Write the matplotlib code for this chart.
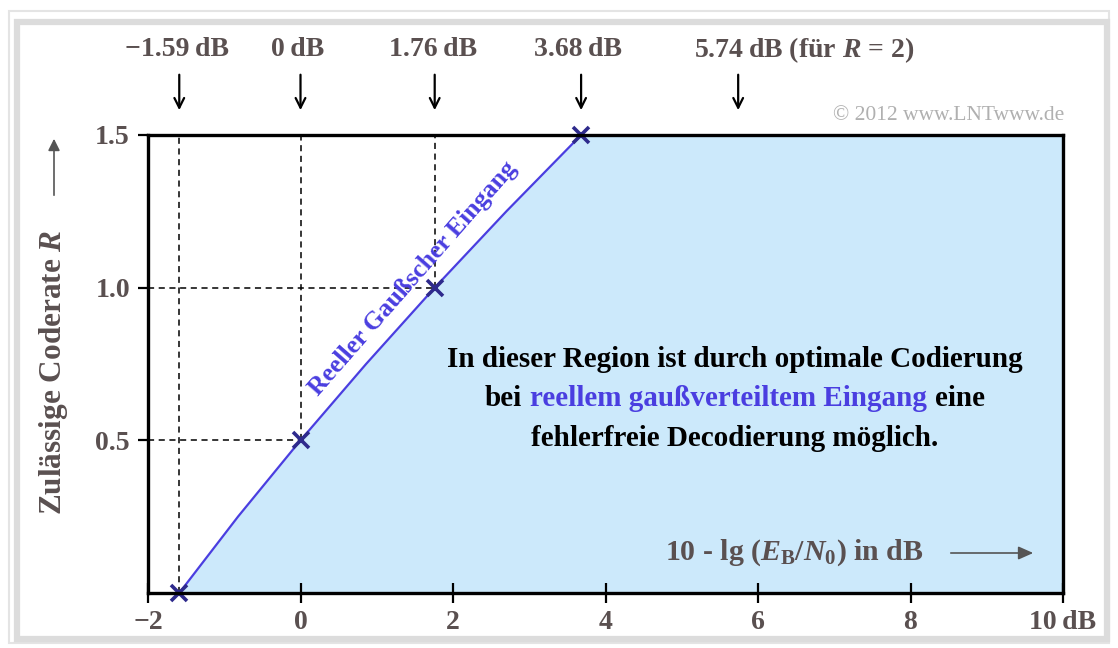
import matplotlib
matplotlib.use("Agg")
import matplotlib.pyplot as plt
from matplotlib.patches import Rectangle, FancyArrowPatch
from matplotlib.offsetbox import TextArea, HPacker, VPacker, AnnotationBbox

# ---- data ----
ebn0_db = [-1.59, -0.82, 0.0, 0.86, 1.76, 2.70, 3.68]
rate_R = [0.0, 0.25, 0.5, 0.75, 1.0, 1.25, 1.5]
marker_x = [-1.59, 0.0, 1.76, 3.68]
marker_y = [0.0, 0.5, 1.0, 1.5]
top_marks = [-1.59, 0.0, 1.76, 3.68, 5.74]
top_labels = ["\u22121.59\u2009dB", "0\u2009dB", "1.76\u2009dB", "3.68\u2009dB"]
x_ticks = [-2, 0, 2, 4, 6, 8, 10]
x_ticklabels = ["\u22122", "0", "2", "4", "6", "8", "10\u2009dB"]
y_ticks = [0.5, 1.0, 1.5]
y_ticklabels = ["0.5", "1.0", "1.5"]

FONT = "Liberation Serif"
GREY = "#5a5050"
BLUE = "#4a3ee0"
NAVY = "#2e2a8c"
FILL = "#cce9fb"

plt.rcParams["font.family"] = [FONT, "DejaVu Serif"]
plt.rcParams["font.weight"] = "bold"
plt.rcParams["mathtext.fontset"] = "custom"
plt.rcParams["mathtext.rm"] = "Liberation Serif:bold"
plt.rcParams["mathtext.it"] = "Liberation Serif:italic:bold"
plt.rcParams["mathtext.bf"] = "Liberation Serif:bold"

fig = plt.figure(figsize=(11.18, 6.48), dpi=100)
W, H = 1118, 648
ax = fig.add_axes([148 / W, 1 - 593 / H, (1063 - 148) / W, (593 - 135) / H])
ax.set_xlim(-2, 10)
ax.set_ylim(0, 1.5)

# outer frame
fig.patches.append(Rectangle((9 / W, 5 / H), 1100 / W, 632 / H, transform=fig.transFigure,
                             fill=False, edgecolor="#e4e4e4", linewidth=1.5, zorder=0))
fig.patches.append(Rectangle((17 / W, 9 / H), 1090 / W, 617 / H, transform=fig.transFigure,
                             fill=False, edgecolor="#dcdcdc", linewidth=4.5, zorder=0))

# fill region
ax.fill_betweenx(rate_R, ebn0_db, 10, color=FILL, zorder=1, linewidth=0)

# dashed helpers
dkw = dict(color="black", linestyle=(0, (4, 3)), linewidth=1.1, zorder=2)
ax.plot([marker_x[0], marker_x[0]], [0, 1.5], **dkw)
ax.plot([marker_x[1], marker_x[1]], [marker_y[1], 1.5], **dkw)
ax.plot([marker_x[2], marker_x[2]], [marker_y[2], 1.5], **dkw)
ax.plot([-2, marker_x[1]], [marker_y[1], marker_y[1]], **dkw)
ax.plot([-2, marker_x[2]], [marker_y[2], marker_y[2]], **dkw)

# curve
ax.plot(ebn0_db, rate_R, color=BLUE, linewidth=1.6, zorder=3)
ax.plot(marker_x, marker_y, linestyle="none", marker="x", markersize=11,
        markeredgewidth=2.6, color=NAVY, zorder=4, clip_on=False)

# curve label
ax.text(1.47, 1.03, "Reeller Gaußscher Eingang", color=BLUE, fontsize=18.5,
        fontweight="bold", rotation=48.8, rotation_mode="anchor", ha="center", va="center", zorder=5)

# axes styling
for s in ax.spines.values():
    s.set_linewidth(2.4)
    s.set_zorder(6)
ax.set_xticks(x_ticks)
ax.set_xticklabels(x_ticklabels)
ax.set_yticks(y_ticks)
ax.set_yticklabels(y_ticklabels)
ax.tick_params(axis="x", direction="inout", length=14, width=1.6, pad=5,
               labelsize=20, labelcolor=GREY)
ax.tick_params(axis="y", direction="out", length=7, width=1.6, pad=6,
               labelsize=20, labelcolor=GREY)
for t in ax.get_xticklabels() + ax.get_yticklabels():
    t.set_fontweight("bold")

# top arrows and labels
label_px = [177, 298, 433, 578]
for xm in top_marks:
    ax.annotate("", xy=(xm, 1.5 + 22 / 305), xytext=(xm, 1.5 + 63 / 305),
                xycoords="data", textcoords="data", annotation_clip=False,
                arrowprops=dict(arrowstyle="->,head_length=0.7,head_width=0.35", color="black", lw=1.6))
for lab, xp in zip(top_labels, label_px):
    fig.text(xp / W, 1 - 50 / H, lab, ha="center", va="center", fontsize=20,
             fontweight="bold", color=GREY)
fig.text(694 / W, 1 - 50 / H, "5.74\u2009dB (für $\\mathit{R}$ = 2)", ha="left", va="center",
         fontsize=20, fontweight="bold", color=GREY)

# copyright
fig.text(1064 / W, 1 - 116 / H, "© 2012 www.LNTwww.de", ha="right", va="center",
         fontsize=15.5, fontweight="normal", color="#b0b0b0")

# y label with arrow
fig.text(54 / W, 1 - 372 / H, "Zulässige Coderate $\\mathit{R}$", rotation=90, ha="center",
         va="center", fontsize=22.5, fontweight="bold", color=GREY)
fig.add_artist(FancyArrowPatch((54 / W, 1 - 198 / H), (54 / W, 1 - 136 / H),
               transform=fig.transFigure, arrowstyle="-|>,head_length=7,head_width=3.5",
               color="#555555", lw=1.2))

# x label inside axes
fig.text(665 / W, 1 - 553 / H, "10 - lg ($\\mathit{E}_{\\mathrm{B}}/\\mathit{N}_{\\mathrm{0}}$) in dB",
         ha="left", va="center", fontsize=21.5, fontweight="bold", color=GREY, zorder=7)
fig.add_artist(FancyArrowPatch((948 / W, 1 - 553 / H), (1036 / W, 1 - 553 / H),
               transform=fig.transFigure, arrowstyle="-|>,head_length=9,head_width=4",
               color="#555555", lw=1.2))

# region text
tp = dict(fontsize=21, fontweight="bold", family=FONT)
line1 = TextArea("In dieser Region ist durch optimale Codierung", textprops=dict(color="black", **tp))
l2a = TextArea("bei", textprops=dict(color="black", **tp))
l2b = TextArea("reellem gaußverteiltem Eingang", textprops=dict(color=BLUE, **tp))
l2c = TextArea("eine", textprops=dict(color="black", **tp))
line2 = HPacker(children=[l2a, l2b, l2c], align="baseline", pad=0, sep=6)
line3 = TextArea("fehlerfreie Decodierung möglich.", textprops=dict(color="black", **tp))
box = VPacker(children=[line1, line2, line3], align="center", pad=0, sep=9)
ab = AnnotationBbox(box, (735 / W, 1 - 399 / H), xycoords="figure fraction", frameon=False,
                    box_alignment=(0.5, 0.5), zorder=7)
fig.add_artist(ab)

fig.savefig("out.png", dpi=100)
